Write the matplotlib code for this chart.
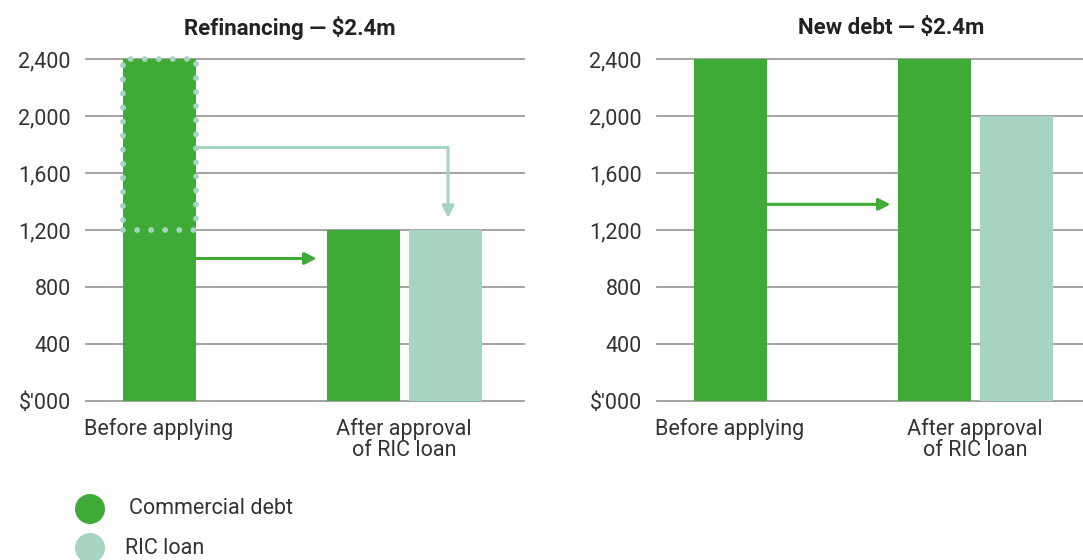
import matplotlib
matplotlib.use("Agg")
import matplotlib.pyplot as plt
from matplotlib.patches import Rectangle

plt.rcParams['font.family'] = ['Roboto', 'DejaVu Sans']

# ---- data ----
categories = ["Before applying", "After approval\nof RIC loan"]
series_names = ["Commercial debt", "RIC loan"]
panel_titles = ["Refinancing \u2014 $2.4m", "New debt \u2014 $2.4m"]
# left panel (Refinancing)
refi_commercial = [2400, 1200]
refi_ric = [None, 1200]
# right panel (New debt)
new_commercial = [2400, 2400]
new_ric = [None, 2000]
yticks = [0, 400, 800, 1200, 1600, 2000, 2400]
ytick_labels = ["$'000", "400", "800", "1,200", "1,600", "2,000", "2,400"]

DARK = "#3FAA35"
LIGHT = "#A7D4C1"
GRID = "#9c9c9c"
TEXT = "#333333"

W, H = 1083, 560
fig = plt.figure(figsize=(W / 100, H / 100), dpi=100)

def px_axes(left, right, top, bottom):
    return fig.add_axes([left / W, 1 - bottom / H, (right - left) / W, (bottom - top) / H])

axL = px_axes(86, 524, 59, 401)
axR = px_axes(657, 1083, 59, 401)

bw = 1.0
before_x = 1.0
after_c = 3.8
after_r = 4.92


def setup(ax, xmax, title, title_x):
    ax.set_xlim(0, xmax)
    ax.set_ylim(0, 2400)
    ax.set_yticks(yticks)
    ax.set_yticklabels(ytick_labels, fontsize=15.5, color=TEXT)
    ax.set_xticks([before_x, (after_c + after_r) / 2])
    ax.set_xticklabels(categories, fontsize=15.5, color=TEXT, linespacing=1.0)
    ax.tick_params(axis='both', length=0)
    ax.tick_params(axis='y', pad=11)
    ax.tick_params(axis='x', pad=12)
    for s in ax.spines.values():
        s.set_visible(False)
    ax.grid(axis='y', color=GRID, linewidth=1.3, clip_on=False)
    ax.set_axisbelow(True)
    for gl in ax.get_ygridlines():
        gl.set_clip_on(False)
    ax.text(title_x, 1.0 + 31 / 342, title, transform=ax.transAxes, ha='center', va='center',
            fontsize=16, fontweight='bold', color='#222222')


setup(axL, 6.0, panel_titles[0], (290 - 86) / 438)
setup(axR, 426 / 73, panel_titles[1], (891 - 657) / 426)

arrow_style = dict(arrowstyle="-|>,head_length=0.7,head_width=0.35", lw=2.2, shrinkA=0, shrinkB=0)

# ---- left panel bars ----
axL.bar([before_x, after_c], refi_commercial, width=bw, color=DARK, zorder=2)
axL.bar([after_r], [refi_ric[1]], width=bw, color=LIGHT, zorder=2)
# dotted outline over the refinanced part
rect = Rectangle((before_x - bw / 2, refi_commercial[1]), bw, refi_commercial[0] - refi_commercial[1],
                 fill=False, edgecolor=LIGHT, linewidth=4.2, linestyle=(0, (0.01, 2.4)),
                 capstyle='round', joinstyle='round', zorder=4, clip_on=False)
axL.add_patch(rect)

# green arrow (commercial debt kept)
axL.annotate("", xy=(3.16, 1000), xytext=(before_x + bw / 2, 1000),
             arrowprops=dict(color=DARK, **arrow_style), zorder=3)
# light arrow (refinanced by RIC loan)
axL.plot([before_x + bw / 2, 4.96], [1780, 1780], color=LIGHT, lw=2.2, zorder=3, solid_capstyle='butt')
axL.annotate("", xy=(4.96, 1285), xytext=(4.96, 1780),
             arrowprops=dict(color=LIGHT, **arrow_style), zorder=3)

# ---- right panel bars ----
axR.bar([before_x, after_c], new_commercial, width=bw, color=DARK, zorder=2)
axR.bar([after_r], [new_ric[1]], width=bw, color=LIGHT, zorder=2)
axR.annotate("", xy=(3.2, 1380), xytext=(before_x + bw / 2, 1380),
             arrowprops=dict(color=DARK, **arrow_style), zorder=3)

# ---- legend ----
lg = fig.add_axes([0, 0, 1, 1])
lg.set_xlim(0, W)
lg.set_ylim(H, 0)
lg.axis('off')
lg.patch.set_alpha(0)
for (name, col, y, tx) in [(series_names[0], DARK, 509, 129), (series_names[1], LIGHT, 548, 125)]:
    lg.scatter([90], [y], s=(30 * 0.72) ** 2, color=col, edgecolors='none')
    lg.text(tx, y, name, fontsize=15.5, color=TEXT, va='center', ha='left')

fig.savefig("out.png", dpi=100)
